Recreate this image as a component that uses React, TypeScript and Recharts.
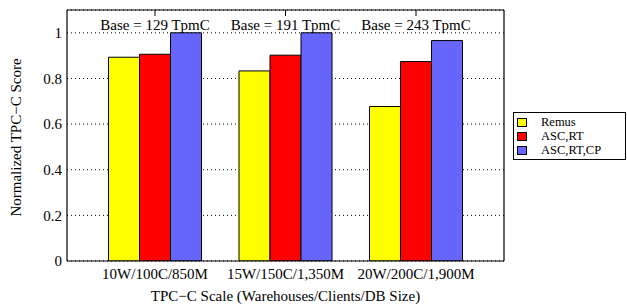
import React from 'react';
import {
  BarChart,
  Bar,
  XAxis,
  YAxis,
  CartesianGrid,
} from 'recharts';

const categories = ['10W/100C/850M', '15W/150C/1,350M', '20W/200C/1,900M'];
const baseLabels = ['Base = 129 TpmC', 'Base = 191 TpmC', 'Base = 243 TpmC'];
const remus = [0.893, 0.833, 0.677];
const ascRt = [0.906, 0.902, 0.874];
const ascRtCp = [1.0, 1.0, 0.966];
const yTicks = [0, 0.2, 0.4, 0.6, 0.8, 1];

const seriesInfo = [
  { key: 'remus', name: 'Remus', color: '#ffff00' },
  { key: 'ascRt', name: 'ASC,RT', color: '#ff0000' },
  { key: 'ascRtCp', name: 'ASC,RT,CP', color: '#6666ff' },
];

const data = categories.map((c, i) => ({
  scale: c,
  base: baseLabels[i],
  remus: remus[i],
  ascRt: ascRt[i],
  ascRtCp: ascRtCp[i],
}));

const FONT = '"Liberation Serif", "DejaVu Serif", serif';
const font = { fontSize: 15, fill: '#000', fontFamily: FONT };

const XTitle = (props: any) => {
  const { viewBox } = props;
  return (
    <text
      x={viewBox.x + viewBox.width / 2}
      y={301}
      textAnchor="middle"
      fontSize={15}
      fontFamily={FONT}
      fill="#000"
    >
      TPC−C Scale (Warehouses/Clients/DB Size)
    </text>
  );
};

const YTitle = () => (
  <text
    x={20.5}
    y={137.5}
    transform="rotate(-90, 20.5, 137.5)"
    textAnchor="middle"
    fontSize={15}
    fontFamily={FONT}
    fill="#000"
  >
    Normalized TPC−C Score
  </text>
);

// gnuplot-style key box, drawn over the chart
const LegendBox = () => (
  <div
    style={{
      position: 'absolute',
      left: 513,
      top: 112,
      width: 113,
      height: 48,
      boxSizing: 'border-box',
      border: '1px solid #000',
      background: '#fff',
      fontFamily: FONT,
    }}
  >
    {seriesInfo.map((s, i) => (
      <div key={s.key} style={{ position: 'absolute', left: 0, top: 2 + i * 14, height: 14, width: '100%' }}>
        <div
          style={{
            position: 'absolute',
            left: 3,
            top: 2.5,
            width: 10,
            height: 9,
            boxSizing: 'border-box',
            background: s.color,
            border: '1px solid #000',
          }}
        />
        <div
          style={{
            position: 'absolute',
            left: 27,
            top: 0,
            height: 14,
            fontSize: 12.5,
            lineHeight: '14px',
            whiteSpace: 'nowrap',
            color: '#000',
          }}
        >
          {s.name}
        </div>
      </div>
    ))}
  </div>
);

export default function App() {
  return (
    <div
      style={{
        position: 'absolute',
        left: 0,
        top: 0,
        width: 627,
        height: 307,
        background: '#fff',
        fontFamily: FONT,
      }}
    >
      <BarChart
        width={627}
        height={307}
        data={data}
        margin={{ top: 10, right: 123, bottom: 0, left: 0 }}
        barCategoryGap={18.75}
        barGap={0}
      >
        <CartesianGrid
          xAxisId="b"
          yAxisId="l"
          vertical={false}
          stroke="#000"
          strokeDasharray="1 3"
        />
        <XAxis
          xAxisId="b"
          dataKey="scale"
          height={46}
          padding={{ left: 22.75, right: 22.75 }}
          tickLine={false}
          tickSize={0}
          tickMargin={7}
          tick={font}
          axisLine={{ stroke: '#000', strokeWidth: 1.2 }}
          interval={0}
          label={<XTitle />}
        />
        <XAxis
          xAxisId="t"
          dataKey="base"
          orientation="top"
          mirror
          padding={{ left: 22.75, right: 22.75 }}
          tickSize={6}
          tickMargin={3}
          tick={font}
          tickLine={{ stroke: '#000' }}
          axisLine={{ stroke: '#000', strokeWidth: 1.2 }}
          interval={0}
        />
        <YAxis
          yAxisId="l"
          width={67}
          domain={[0, 1.1]}
          ticks={yTicks}
          tickLine={false}
          tickSize={0}
          tickMargin={5}
          tick={font}
          axisLine={{ stroke: '#000', strokeWidth: 1.2 }}
          allowDataOverflow
          label={<YTitle />}
        />
        <YAxis
          yAxisId="lm"
          mirror
          domain={[0, 1.1]}
          ticks={yTicks}
          tick={false}
          tickSize={6}
          tickLine={{ stroke: '#000' }}
          axisLine={false}
        />
        <YAxis
          yAxisId="r"
          orientation="right"
          mirror
          domain={[0, 1.1]}
          ticks={yTicks}
          tick={false}
          tickSize={6}
          tickLine={{ stroke: '#000' }}
          axisLine={{ stroke: '#000', strokeWidth: 1.2 }}
        />
        {seriesInfo.map((s) => (
          <Bar
            key={s.key}
            xAxisId="b"
            yAxisId="l"
            dataKey={s.key}
            name={s.name}
            fill={s.color}
            stroke="#000"
            strokeWidth={1}
            isAnimationActive={false}
          />
        ))}
      </BarChart>
      <LegendBox />
    </div>
  );
}
